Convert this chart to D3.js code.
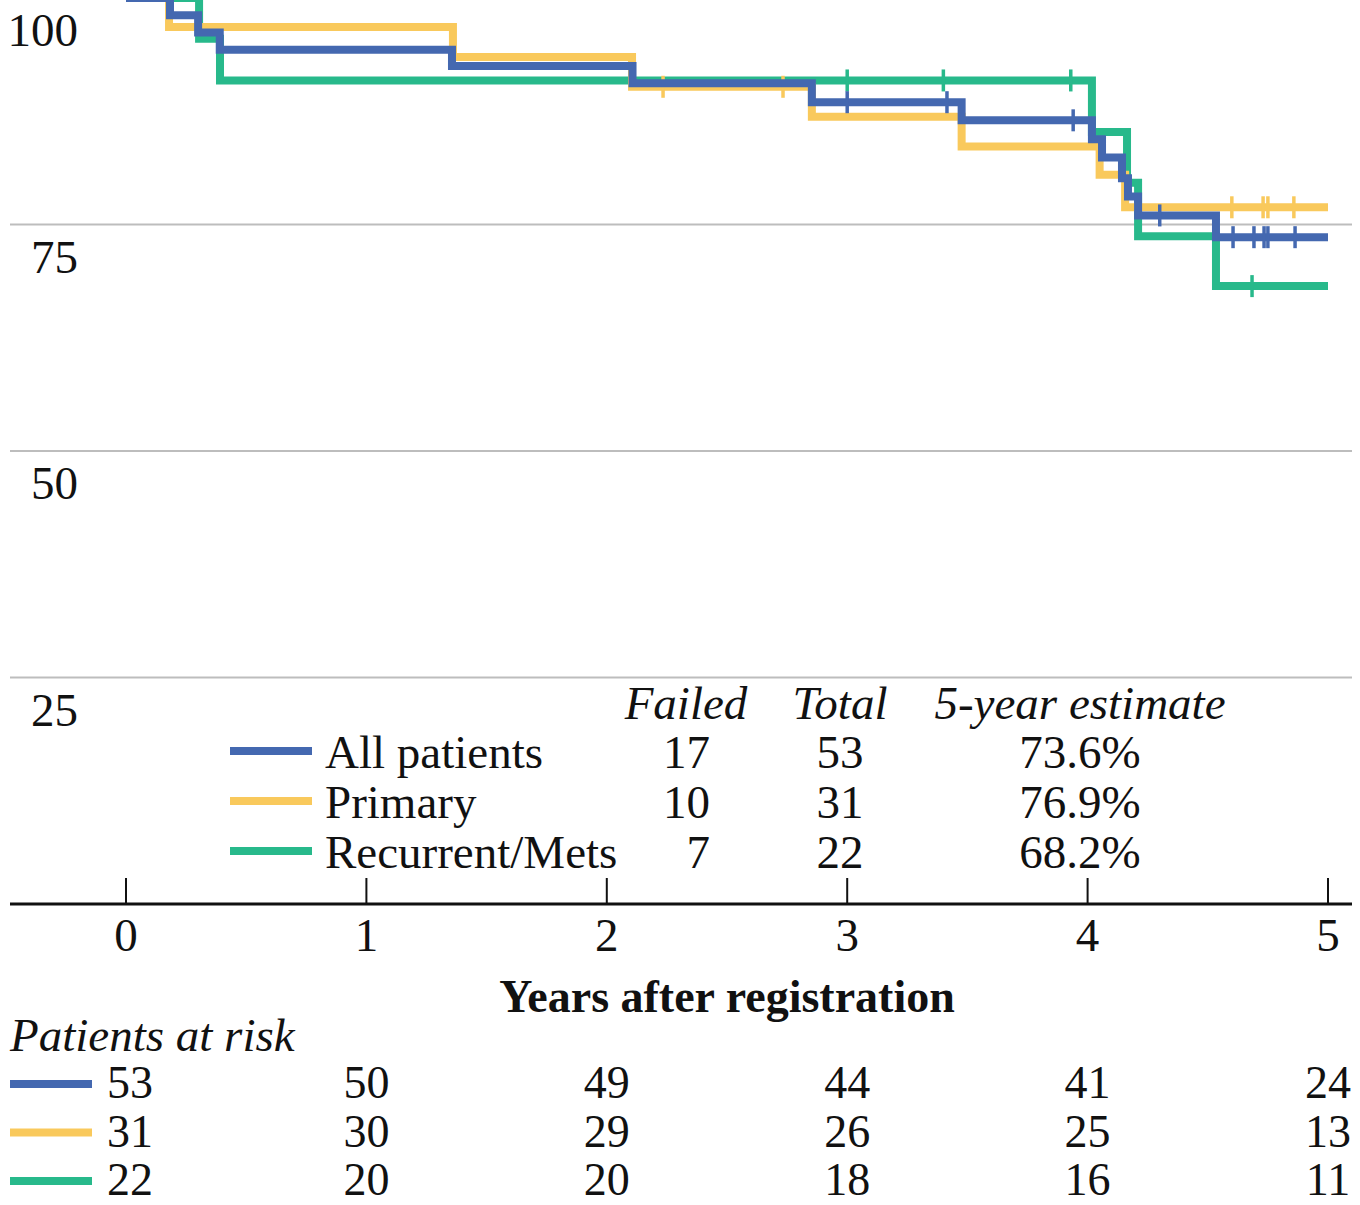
<!DOCTYPE html>
<html><head><meta charset="utf-8">
<script src="https://cdnjs.cloudflare.com/ajax/libs/d3/7.8.5/d3.min.js"></script>
<style>
html,body{margin:0;padding:0;background:#fff;}
svg{display:block;}
</style></head>
<body>
<svg id="chart" width="1360" height="1205" font-family="'Liberation Serif', 'Times New Roman', Times, 'DejaVu Serif', serif"></svg>
<script>
// ---- data ----
const seriesNames = ["All patients", "Primary", "Recurrent/Mets"];
const seriesColors = ["#4468b0", "#f9c95c", "#28b98b"];
const failed = [17, 10, 7];
const totals = [53, 31, 22];
const estimates = ["73.6%", "76.9%", "68.2%"];

// step events: [time in years, survival % after the step]
const allSteps = [[0.183,98.1],[0.30,96.2],[0.39,94.3],[1.356,92.5],[2.107,90.6],[2.853,88.5],[3.476,86.5],[4.018,84.4],[4.06,82.4],[4.143,80.1],[4.168,78.1],[4.21,76.0],[4.534,73.6]];
const primarySteps = [[0.179,96.8],[1.36,93.5],[2.105,90.2],[2.853,86.9],[3.476,83.6],[4.05,80.5],[4.156,76.9]];
const recurSteps = [[0.304,95.5],[0.391,90.9],[4.018,85.2],[4.164,79.6],[4.21,73.7],[4.534,68.2]];

const allCensor = [3.0,3.415,3.94,4.30,4.605,4.692,4.734,4.75,4.863];
const primaryCensor = [2.234,2.733,4.60,4.73,4.75,4.858];
const recurCensor = [3.0,3.40,3.93,4.684];

const yTicks = [100, 75, 50, 25];
const xTicks = [0, 1, 2, 3, 4, 5];
const atRiskAll = [53, 50, 49, 44, 41, 24];
const atRiskPrimary = [31, 30, 29, 26, 25, 13];
const atRiskRecur = [22, 20, 20, 18, 16, 11];

const xTitle = "Years after registration";
const riskTitle = "Patients at risk";
const legendHeaders = ["Failed", "Total", "5-year estimate"];

// ---- drawing ----
const svg = d3.select("#chart");
const x = d3.scaleLinear().domain([0, 5]).range([126, 1328]);
const y = d3.scaleLinear().domain([0, 100]).range([904, -2]);
const FS = 47;
const INK = "#111";

// gridlines
svg.append("g").selectAll("line").data(yTicks.filter(d => d < 100)).join("line")
  .attr("x1", 10).attr("x2", 1352)
  .attr("y1", d => y(d)).attr("y2", d => y(d))
  .attr("stroke", "#bdbdbd").attr("stroke-width", 2);

// y labels
svg.append("g").selectAll("text").data(yTicks).join("text")
  .attr("x", 78).attr("y", d => y(d) + 48).attr("fill", INK)
  .attr("text-anchor", "end").attr("font-size", FS).text(d => d);

// survival curves
function stepPoints(steps) {
  const pts = [[0, 100]].concat(steps);
  pts.push([5, steps[steps.length - 1][1]]);
  return pts;
}
function survAt(steps, t) {
  let s = 100;
  for (const [tt, v] of steps) { if (tt <= t) s = v; }
  return s;
}
const curves = [
  {steps: recurSteps, censor: recurCensor, color: seriesColors[2]},
  {steps: primarySteps, censor: primaryCensor, color: seriesColors[1]},
  {steps: allSteps, censor: allCensor, color: seriesColors[0]}
];
const line = d3.line().x(d => x(d[0])).y(d => y(d[1])).curve(d3.curveStepAfter);
curves.forEach(c => {
  const g = svg.append("g");
  g.append("path").datum(stepPoints(c.steps)).attr("d", line)
    .attr("fill", "none").attr("stroke", c.color).attr("stroke-width", 8)
    .attr("stroke-linejoin", "miter");
  g.selectAll("line").data(c.censor).join("line")
    .attr("x1", d => x(d)).attr("x2", d => x(d))
    .attr("y1", d => y(survAt(c.steps, d)) - 11)
    .attr("y2", d => y(survAt(c.steps, d)) + 11)
    .attr("stroke", c.color).attr("stroke-width", 3.5);
});

// x axis
const xAxis = svg.append("g");
xAxis.append("line").attr("x1", 10).attr("x2", 1352).attr("y1", 904).attr("y2", 904)
  .attr("stroke", INK).attr("stroke-width", 3);
xAxis.selectAll("line.tick").data(xTicks).join("line").attr("class", "tick")
  .attr("x1", d => x(d)).attr("x2", d => x(d)).attr("y1", 878).attr("y2", 904)
  .attr("stroke", INK).attr("stroke-width", 2);
xAxis.selectAll("text").data(xTicks).join("text")
  .attr("x", d => x(d)).attr("y", 951).attr("text-anchor", "middle").attr("fill", INK)
  .attr("font-size", FS).text(d => d);

svg.append("text").attr("x", 727).attr("y", 1012).attr("text-anchor", "middle").attr("fill", INK)
  .attr("font-size", 46).attr("font-weight", "bold").text(xTitle);

// legend
const hdrX = [686, 840, 1080];
svg.append("g").selectAll("text").data(legendHeaders).join("text")
  .attr("x", (d, i) => hdrX[i]).attr("y", 719).attr("text-anchor", "middle").attr("fill", INK)
  .attr("font-style", "italic").attr("font-size", FS).text(d => d);
const lg = svg.append("g").selectAll("g").data(seriesNames).join("g")
  .attr("transform", (d, i) => `translate(0,${768 + i * 50})`);
lg.append("line").attr("x1", 230).attr("x2", 312).attr("y1", -17).attr("y2", -17)
  .attr("stroke", (d, i) => seriesColors[i]).attr("stroke-width", 8);
lg.append("text").attr("x", 325).attr("font-size", FS).attr("fill", INK).text(d => d);
lg.append("text").attr("x", 710).attr("text-anchor", "end").attr("font-size", FS).attr("fill", INK).text((d, i) => failed[i]);
lg.append("text").attr("x", 840).attr("text-anchor", "middle").attr("font-size", FS).attr("fill", INK).text((d, i) => totals[i]);
lg.append("text").attr("x", 1080).attr("text-anchor", "middle").attr("font-size", FS).attr("fill", INK).text((d, i) => estimates[i]);

// at-risk table
svg.append("text").attr("x", 10).attr("y", 1051).attr("font-style", "italic").attr("fill", INK)
  .attr("font-size", FS).text(riskTitle);
const riskRows = [atRiskAll, atRiskPrimary, atRiskRecur];
const rr = svg.append("g").selectAll("g").data(riskRows).join("g")
  .attr("transform", (d, i) => `translate(0,${1098 + i * 48.5})`);
rr.append("line").attr("x1", 10).attr("x2", 92).attr("y1", -14).attr("y2", -14)
  .attr("stroke", (d, i) => seriesColors[i]).attr("stroke-width", 8);
rr.selectAll("text").data(d => d).join("text")
  .attr("x", (d, i) => i === 0 ? x(xTicks[i]) + 4 : x(xTicks[i]))
  .attr("text-anchor", "middle").attr("font-size", 46).attr("fill", INK).text(d => d);
</script>
</body></html>
